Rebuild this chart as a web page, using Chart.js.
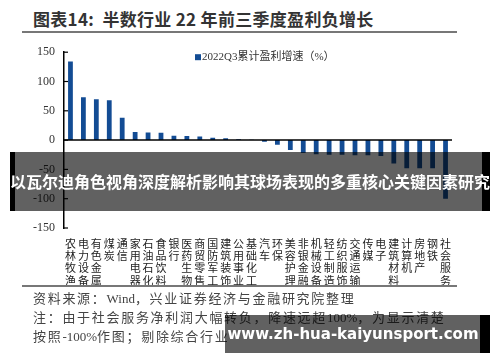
<!DOCTYPE html>
<html>
<head>
<meta charset="utf-8">
<script src="https://cdn.jsdelivr.net/npm/chart.js@4.4.1/dist/chart.umd.min.js"></script>
<style>
  html, body { margin: 0; padding: 0; background: #fff; }
  body { width: 500px; height: 362px; position: relative; overflow: hidden; }
  #title { position: absolute; left: 33px; top: 6px; font: 700 17px "Noto Sans CJK SC", sans-serif; color: #333; white-space: nowrap; letter-spacing: 0.3px; }
  .rule { position: absolute; left: 22px; width: 435px; height: 2px; background: #777; }
  #wrap { position: absolute; left: 0; top: 36px; width: 500px; height: 252px; }
  .note { position: absolute; left: 33px; font: 400 13px "Liberation Serif", "Noto Sans CJK SC", serif; color: #444; white-space: nowrap; }
  .note .cj { letter-spacing: 1.7px; font-family: "Noto Sans CJK SC", sans-serif; }
  .band { position: absolute; background: rgba(0,0,0,0.62); }
  .blk { position: absolute; background: #000; }
  #bannerText { position: absolute; left: 0; width: 500px; top: 170px; text-align: center; font: 700 16px "Noto Sans CJK SC", sans-serif; color: #fff; white-space: nowrap; line-height: 22px; }
  #wmText { position: absolute; left: 226px; width: 254px; top: 322px; text-align: center; font: 700 15px "DejaVu Sans", sans-serif; color: #fff; white-space: nowrap; line-height: 24px; }
</style>
</head>
<body>
<div id="title">图表14:&nbsp;&nbsp;半数行业 22 年前三季度盈利负增长</div>
<div class="rule" style="top:31px"></div>
<div id="wrap"><canvas id="c"></canvas></div>
<div class="rule" style="top:285px;height:1.5px"></div>
<div class="note" style="top:288px"><span class="cj">资料来源：</span>Wind<span class="cj">，兴业证券经济与金融研究院整理</span></div>
<div class="note" style="top:307px"><span class="cj">注：由于社会服务净利润大幅转负，降速远超</span>100%<span class="cj">，为显示清楚</span></div>
<div class="note" style="top:326px"><span class="cj">按照</span>-100%<span class="cj">作图；剔除综合行业</span></div>

<div class="blk" style="left:10px;top:152px;width:5px;height:59px"></div>
<div class="band" style="left:15px;top:152px;width:467px;height:59px"></div>
<div class="blk" style="left:482px;top:152px;width:8px;height:59px"></div>
<div id="bannerText">以瓦尔迪角色视角深度解析影响其球场表现的多重核心关键因素研究</div>

<div class="band" style="left:225px;top:315px;width:255px;height:38px"></div>
<div class="blk" style="left:480px;top:315px;width:10px;height:38px"></div>
<div id="wmText">www.zh-hua-kaiyunsport.com</div>

<script>
const categories = ['农林牧渔','电力设备','有色金属','煤炭','通信','家用电器','石油石化','食品饮料','银行','医药生物','商贸零售','国防军工','建筑装饰','公用事业','基础化工','汽车','环保','美容护理','非银金融','机械设备','轻工制造','纺织服饰','交通运输','传媒','电子','建筑材料','计算机','房地产','钢铁','社会服务'];
const growth = [134, 73, 69.5, 68, 38, 14, 13, 12.5, 7.5, 7, 6, 4, 3, 1.5, 0.8, -3, -8, -17, -22, -24, -25, -25, -26, -26, -27, -40, -48, -48, -48, -100];
const seriesName = '2022Q3累计盈利增速（%）';
const yTicks = [-150, -100, -50, 0, 50, 100, 150];
const barColor = '#134c94';

const axisExtras = {
  id: 'axisExtras',
  afterDraw(chart) {
    const {ctx, chartArea} = chart;
    const y = chart.scales.y;
    ctx.save();
    ctx.strokeStyle = '#000';
    ctx.lineWidth = 1.5;
    const y0 = y.getPixelForValue(0);
    ctx.beginPath();
    ctx.moveTo(chartArea.left, y0);
    ctx.lineTo(chartArea.right, y0);
    ctx.stroke();
    ctx.lineWidth = 1.2;
    yTicks.forEach(v => {
      const py = y.getPixelForValue(v);
      ctx.beginPath();
      ctx.moveTo(chartArea.left, py);
      ctx.lineTo(chartArea.left + 4, py);
      ctx.stroke();
    });
    // legend
    const ds = chart.data.datasets[0];
    const ly = chartArea.top + 5;
    const lx = 195;
    ctx.fillStyle = ds.backgroundColor;
    ctx.fillRect(lx, ly - 3, 6, 6);
    ctx.fillStyle = '#333';
    ctx.textBaseline = 'middle';
    ctx.textAlign = 'left';
    ctx.font = '11px "Liberation Serif", "Noto Sans CJK SC", serif';
    ctx.fillText(ds.label, lx + 7, ly);
    ctx.restore();
  }
};

new Chart(document.getElementById('c'), {
  type: 'bar',
  data: {
    labels: categories.map(s => s.split('')),
    datasets: [{
      label: seriesName,
      data: growth,
      backgroundColor: barColor,
      borderWidth: 0,
      categoryPercentage: 1,
      barPercentage: 0.37
    }]
  },
  options: {
    responsive: true,
    maintainAspectRatio: false,
    animation: false,
    layout: { padding: { left: 0, right: 48, top: 12, bottom: 3 } },
    plugins: {
      legend: { display: false },
      tooltip: { enabled: false }
    },
    scales: {
      x: {
        grid: { display: false, drawTicks: false },
        border: { display: false },
        ticks: {
          maxRotation: 0, minRotation: 0, autoSkip: false, padding: 10,
          color: '#222',
          font: { family: '"Noto Sans CJK SC", sans-serif', size: 11, lineHeight: 1.1 }
        },
        afterFit(scale) { scale.height = 57; }
      },
      y: {
        min: -150, max: 150,
        afterBuildTicks(scale) { scale.ticks = yTicks.map(v => ({value: v})); },
        grid: { display: false, drawTicks: false },
        border: { display: true, color: '#000', width: 1.5 },
        ticks: {
          padding: 9,
          color: '#333',
          font: { family: '"Liberation Serif", serif', size: 12 }
        },
        afterFit(scale) { scale.width = 64; }
      }
    }
  },
  plugins: [axisExtras]
});
</script>
</body>
</html>
